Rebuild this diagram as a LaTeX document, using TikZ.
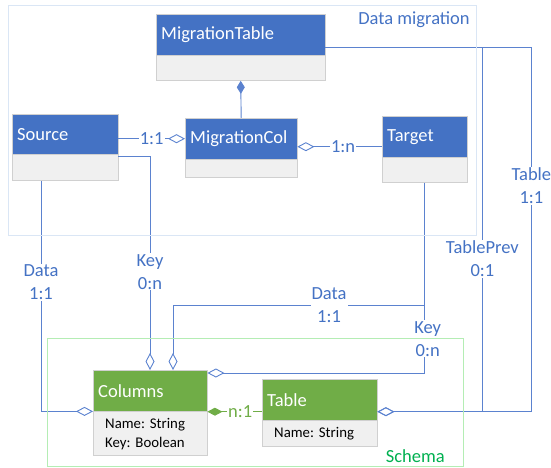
\documentclass[tikz,border=0pt]{standalone}
\usepackage{fontspec}
\setmainfont{Carlito}
\usepackage{tikz}
\usetikzlibrary{positioning,arrows.meta}
\definecolor{umlblue}{HTML}{4472C4}
\definecolor{umlgreen}{HTML}{70AD47}
\definecolor{linkblue}{HTML}{5B82CF}
\definecolor{bodygray}{HTML}{F0F0F0}
\definecolor{edgegray}{HTML}{D0D0D0}
\definecolor{frameblue}{HTML}{DAE6F5}
\definecolor{framegreen}{HTML}{B4EDB4}
\definecolor{schemagreen}{HTML}{00B050}
\newcommand*{\hdrfont}{\fontsize{18.5}{23}\selectfont}
\newcommand*{\attrfont}{\fontsize{14.8}{19}\selectfont}
\frenchspacing

\begin{document}
\begin{tikzpicture}[x=1pt,y=-1pt,
	hdr/.style={rectangle,draw=edgegray,fill=umlblue,text=white,font=\hdrfont,anchor=north west,inner xsep=5pt,inner ysep=0pt,minimum height=41pt,align=left},
	hdrg/.style={hdr,fill=umlgreen},
	attr/.style={rectangle,draw=edgegray,fill=bodygray,font=\attrfont,inner xsep=12pt,inner ysep=0pt,align=left},
	link/.style={draw=linkblue,line width=0.9pt},
	glink/.style={draw=umlgreen,line width=0.9pt},
	agg/.style={-{Diamond[open,length=17pt,width=9pt]}},
	lbl/.style={font=\hdrfont,text=umlblue,fill=white,inner sep=1pt,align=center},
	glbl/.style={lbl,text=umlgreen},
	frame/.style={rectangle,anchor=north west,line width=0.9pt,inner sep=0pt}]
	\useasboundingbox (0,0) rectangle (551,468);
	% classes of the migration
	\node[hdr,text width=159pt] (mtab) at (156,14) {MigrationTable};
	\node[attr,minimum width=169pt,minimum height=25pt,below=0pt of mtab] (mtabb) {};
	\node[hdr,text width=102pt] (mcol) at (185,118) {MigrationCol};
	\node[attr,minimum width=112pt,minimum height=18pt,below=0pt of mcol] (mcolb) {};
	\node[hdr,text width=96pt,minimum height=40pt] (src) at (12,114) {Source};
	\node[attr,minimum width=106pt,minimum height=26pt,below=0pt of src] (srcb) {};
	\node[hdr,text width=75pt] (tgt) at (382,116) {Target};
	\node[attr,minimum width=85pt,minimum height=25pt,below=0pt of tgt] (tgtb) {};
	% classes of the schema
	\node[hdrg,text width=104pt] (cols) at (93,370) {Columns};
	\node[attr,text width=90pt,minimum width=114pt,minimum height=44pt,below=0pt of cols] (colsb) {Name: String\\Key: Boolean};
	\node[hdrg,text width=105pt] (tbl) at (262,379) {Table};
	\node[attr,text width=91pt,minimum width=115pt,minimum height=26pt,below=0pt of tbl] (tblb) {Name: String};

	\draw[link,-{Diamond[length=13pt,width=8pt]}] (mcol.north) -- (mtabb.south);
	\draw[link,agg] (mcol.west -| src.east) -- node[lbl]{1:1} (mcol.west);
	\draw[link,agg] ([yshift=-10pt]tgt.west) -- node[lbl,pos=0.46]{1:n} ([yshift=-10pt]tgt.west -| mcol.east);
	\draw[link,agg] ([xshift=29pt]srcb.south west) |- node[lbl,pos=0.22]{Data\\1:1} (cols.south west);
	\draw[link,agg] ([yshift=-2pt]srcb.north east) -| node[lbl,pos=0.77]{Key\\0:n} ([xshift=57pt]cols.north west);
	\draw[link,agg] (tgtb.south) |- node[lbl,pos=0.69]{Data\\1:1} ([xshift=80pt,yshift=65pt]cols.north west) -- ([xshift=80pt]cols.north west);
	\draw[link,agg] (tgtb.south) |- node[lbl,pos=0.41,xshift=3pt]{Key\\0:n} ([yshift=-3pt]cols.north east);
	\draw[link,agg] ([yshift=-12.5pt]mtab.east) -| node[lbl,pos=0.69]{Table\\1:1} ([xshift=154pt,yshift=-12pt]tbl.east) -- ([yshift=-12pt]tbl.east);
	\draw[link,agg] ([yshift=-12.5pt]mtab.east) -| node[lbl,pos=0.79]{TablePrev\\0:1} ([xshift=105pt,yshift=-12pt]tbl.east) -- ([yshift=-12pt]tbl.east);
	\draw[glink,-{Diamond[length=15pt,width=8pt]}] ([yshift=-12pt]tbl.west) -- node[glbl,pos=0.4]{n:1} ([yshift=-12pt]tbl.west -| cols.east);

	% package frames
	\node[frame,draw=frameblue,minimum width=468pt,minimum height=230pt] (dm) at (8,5) {};
	\node[anchor=east,inner sep=0pt,font=\hdrfont,text=umlblue] (dmname) at ([xshift=-7pt,yshift=-15pt]dm.north east) {Data migration};
	\node[frame,draw=framegreen,minimum width=416pt,minimum height=128pt] (sc) at (47,338) {};
	\node[anchor=east,inner sep=0pt,font=\hdrfont,text=schemagreen] (scname) at ([xshift=-19pt,yshift=11pt]sc.south east) {Schema};
\end{tikzpicture}
\end{document}
